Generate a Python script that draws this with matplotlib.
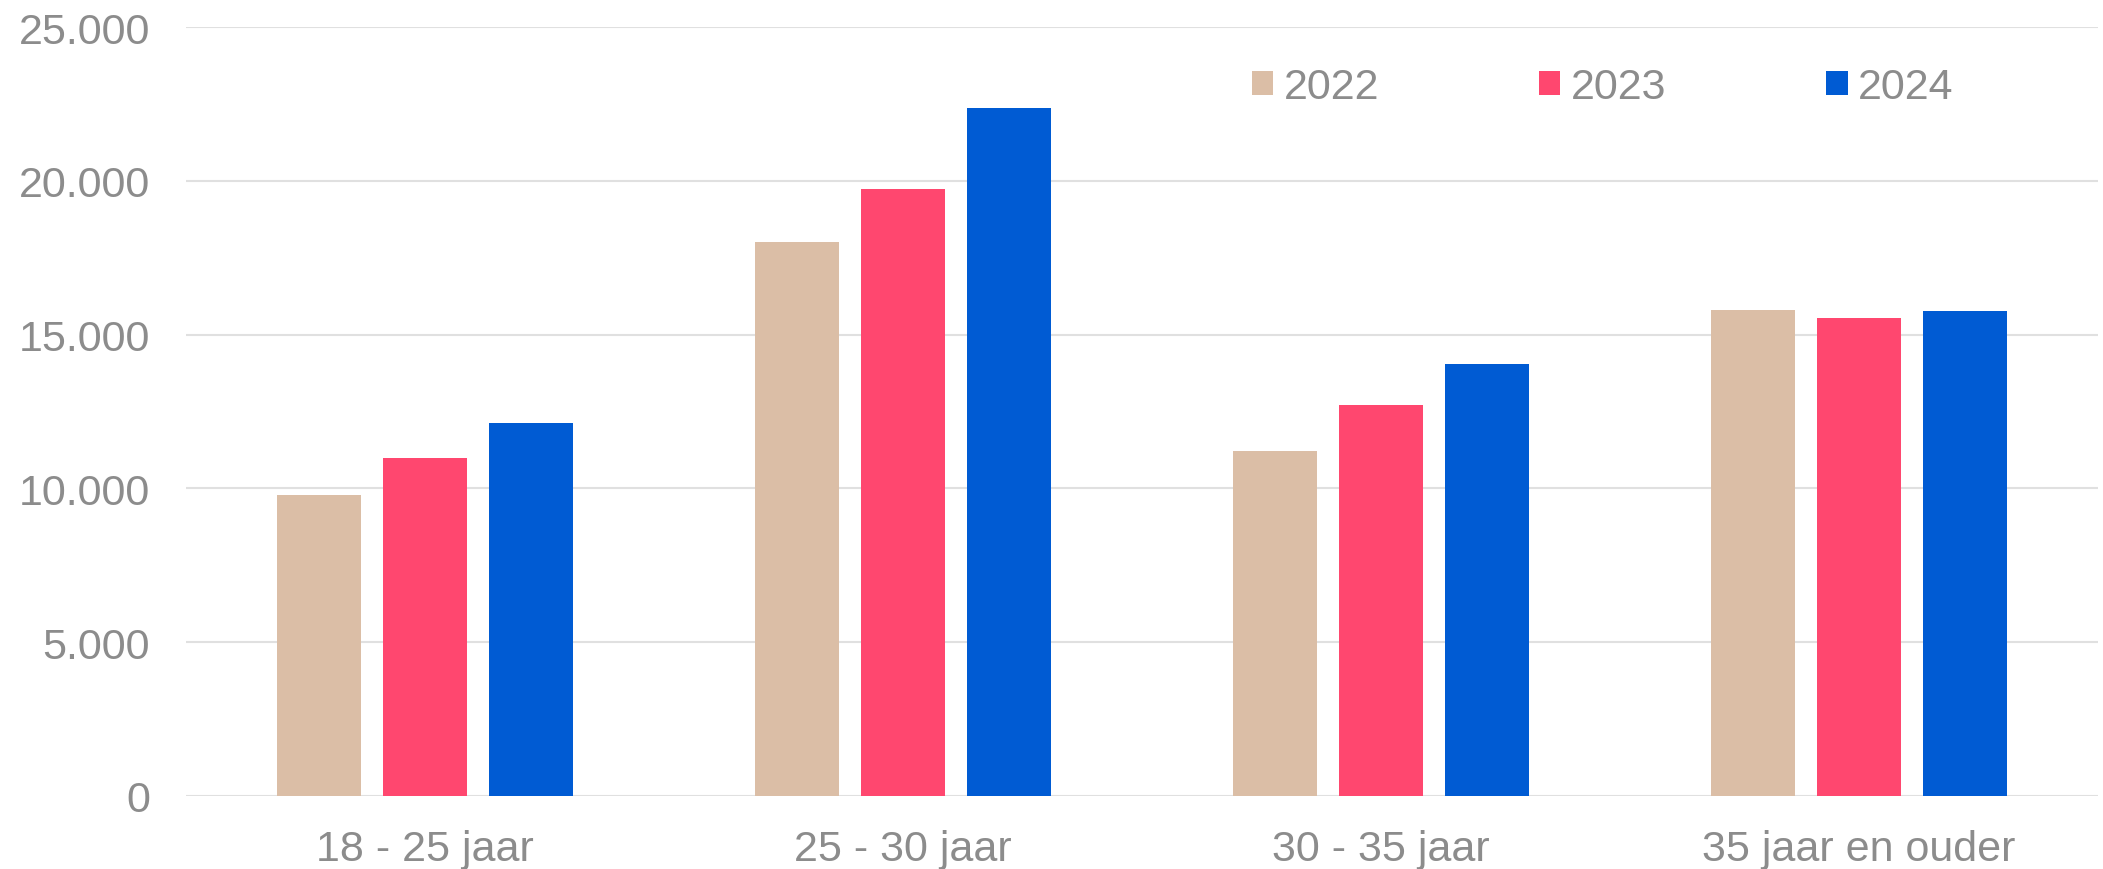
import matplotlib
matplotlib.use("Agg")
import matplotlib.pyplot as plt
import numpy as np
from matplotlib.ticker import FuncFormatter

categories = ["18 - 25 jaar", "25 - 30 jaar", "30 - 35 jaar", "35 jaar en ouder"]
years = ["2022", "2023", "2024"]
v2022 = [9790, 18030, 11220, 15810]
v2023 = [10980, 19730, 12710, 15550]
v2024 = [12120, 22390, 14050, 15780]
colors = ["#DBBEA6", "#FF476F", "#005BD3"]
yticks = [0, 5000, 10000, 15000, 20000, 25000]

plt.rcParams['font.family'] = ['Liberation Sans', 'DejaVu Sans']
textc = "#8C8C8C"

fig = plt.figure(figsize=(21.03, 8.7), dpi=100)
ax = fig.add_axes([186/2103, (870-796.7)/870, (2098-186)/2103, (796.7-28.3)/870])

x = np.arange(len(categories))
w = 0.175
off = 0.222
for i, (vals, c, lab) in enumerate(zip([v2022, v2023, v2024], colors, years)):
    ax.bar(x + (i-1)*off, vals, width=w, color=c, label=lab, zorder=3)

ax.set_xlim(-0.5, len(categories)-0.5)
ax.set_ylim(0, 25000)
ax.set_yticks(yticks)
ax.yaxis.set_major_formatter(FuncFormatter(lambda v, p: f"{int(v):,}".replace(",", ".")))
ax.set_xticks(x)
ax.set_xticklabels(categories)
ax.grid(axis='y', color='#E0E0E0', linewidth=1.5, zorder=0)
ax.set_axisbelow(True)
for s in ax.spines.values():
    s.set_visible(False)
ax.tick_params(axis='y', length=0, pad=26, labelsize=31, labelcolor=textc)
ax.tick_params(axis='x', length=0, pad=24, labelsize=31, labelcolor=textc)

leg = ax.legend(loc='center', bbox_to_anchor=(0.741, 0.922), ncol=3, frameon=False,
                fontsize=31, handlelength=0.5, handleheight=0.5, handletextpad=0.25,
                columnspacing=3.7, borderaxespad=0, borderpad=0)
for t in leg.get_texts():
    t.set_color(textc)

fig.savefig("out.png", dpi=100, facecolor='white')
